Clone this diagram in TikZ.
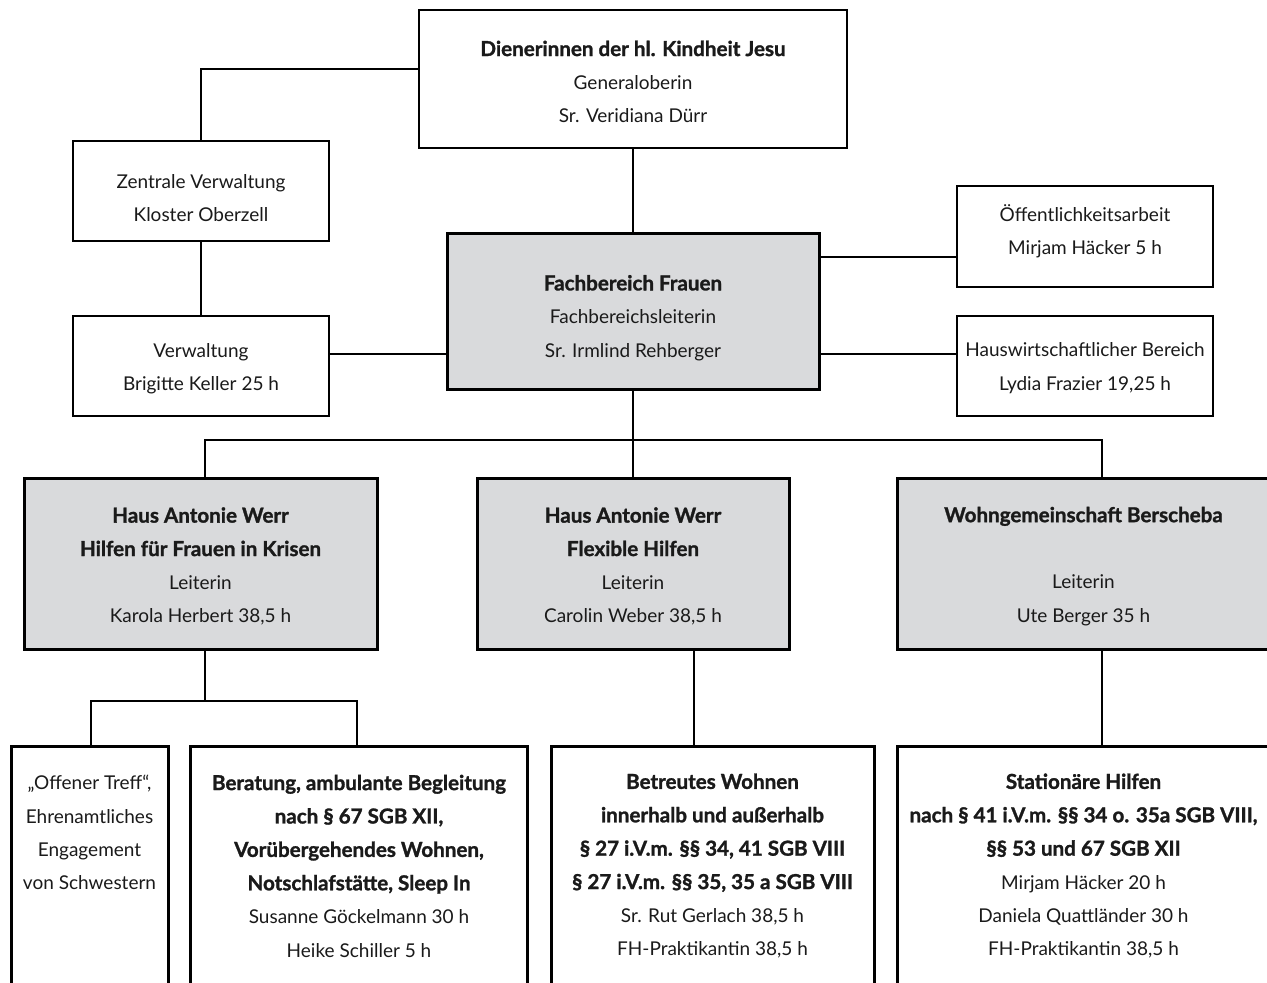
\documentclass[tikz,border=0pt]{standalone}
\usepackage{fontspec}
\setmainfont{Lato}[BoldFeatures={FakeBold=1.3}]
\definecolor{boxgray}{RGB}{217,218,220}
\newcommand{\hb}[1]{{\fontsize{20.6}{33.4}\selectfont\bfseries #1}}
\newcommand{\dn}[1]{\rule{0pt}{#1}}
\newcommand{\up}[1]{\rule[-#1]{0pt}{0pt}}
\begin{document}
\begin{tikzpicture}[x=1pt,y=-1pt,
  every node/.style={font=\fontsize{19}{33.4}\selectfont, align=center, inner sep=0pt, text={rgb,255:red,26;green,26;blue,26}},
  thinbox/.style={draw, rectangle, line width=1.6pt, fill=white},
  graybox/.style={draw, rectangle, line width=3pt, fill=boxgray},
  lowbox/.style={draw, rectangle, line width=3pt, fill=white},
  conn/.style={line width=1.6pt}]
\useasboundingbox (0,0) rectangle (1267,983);
\clip (0,0) rectangle (1267,983);
\fill[white] (0,0) rectangle (1267,983);

% upper level
\node[thinbox, minimum width=428pt, minimum height=138pt] (top) at (633,79)
  {\dn{21pt}\hb{Dienerinnen der hl. Kindheit Jesu}\\Generaloberin\\Sr. Veridiana Dürr};
\node[thinbox, minimum width=256pt, minimum height=100pt] (zent) at (201,191)
  {\dn{28pt}Zentrale Verwaltung\\Kloster Oberzell};
\node[thinbox, minimum width=256pt, minimum height=100pt] (verw) at (201,366)
  {\dn{20pt}Verwaltung\\Brigitte Keller 25 h};
\node[graybox, minimum width=372pt, minimum height=156pt] (fach) at (633,311)
  {\dn{29pt}\hb{Fachbereich Frauen}\\Fachbereichsleiterin\\Sr. Irmlind Rehberger};
\node[thinbox, minimum width=256pt, minimum height=101pt] (oeff) at (1085,236.5)
  {Öffentlichkeitsarbeit\\Mirjam Häcker 5 h\up{14pt}};
\node[thinbox, minimum width=256pt, minimum height=100pt] (haus) at (1085,366)
  {\dn{18pt}Hauswirtschaftlicher Bereich\\Lydia Frazier 19,25 h};

% middle level
\node[graybox, minimum width=353pt, minimum height=171pt] (h1) at (200.5,563.5)
  {\dn{21pt}\hb{Haus Antonie Werr}\\\hb{Hilfen für Frauen in Krisen}\\Leiterin\\Karola Herbert 38,5 h};
\node[graybox, minimum width=312pt, minimum height=171pt] (h2) at (633,563.5)
  {\dn{21pt}\hb{Haus Antonie Werr}\\\hb{Flexible Hilfen}\\Leiterin\\Carolin Weber 38,5 h};
\node[graybox, minimum width=373pt, minimum height=171pt] (h3) at (1083.5,563.5)
  {\dn{21pt}\hb{Wohngemeinschaft Berscheba}\\\mbox{}\\Leiterin\\Ute Berger 35 h};

% lower level
\node[lowbox, minimum width=157pt, minimum height=240pt] (b1) at (89.5,866)
  {„Offener Treff“,\\Ehrenamtliches\\Engagement\\von Schwestern\\\mbox{}\\\mbox{}};
\node[lowbox, minimum width=337pt, minimum height=240pt] (b2) at (359,866)
  {\hb{Beratung, ambulante Begleitung}\\\hb{nach § 67 SGB XII,}\\\hb{Vorübergehendes Wohnen,}\\\hb{Notschlafstätte, Sleep In}\\Susanne Göckelmann 30 h\\Heike Schiller 5 h};
\node[lowbox, minimum width=323pt, minimum height=240pt] (b3) at (712.5,866)
  {\hb{Betreutes Wohnen}\\\hb{innerhalb und außerhalb}\\\hb{§ 27 i.V.m. §§ 34, 41 SGB VIII}\\\hb{§ 27 i.V.m. §§ 35, 35 a SGB VIII}\\Sr. Rut Gerlach 38,5 h\\FH-Praktikantin 38,5 h};
\node[lowbox, minimum width=373pt, minimum height=240pt] (b4) at (1083.5,866)
  {\hb{Stationäre Hilfen}\\\hb{nach § 41 i.V.m. §§ 34 o. 35a SGB VIII,}\\\hb{§§ 53 und 67 SGB XII}\\Mirjam Häcker 20 h\\Daniela Quattländer 30 h\\FH-Praktikantin 38,5 h};

% helper coordinates
\coordinate (topw) at ([yshift=10pt]top.west);
\coordinate (verwe) at ([yshift=12pt]verw.east);
\coordinate (oeffw) at ([yshift=-20.5pt]oeff.west);
\coordinate (hausw) at ([yshift=12pt]haus.west);
\coordinate (busL) at (205,440);
\coordinate (busR) at (1102,440);
\coordinate (lowL) at (91,701);
\coordinate (lowR) at (357,701);
\coordinate (h2out) at ([xshift=61pt]h2.south);
\coordinate (h3out) at ([xshift=18.5pt]h3.south);

% connectors
\draw[conn] (topw) -| (zent.north);
\draw[conn] (zent.south) -- (verw.north);
\draw[conn] (verwe) -- (verwe -| fach.west);
\draw[conn] (top.south) -- (fach.north);
\draw[conn] (oeffw) -- (oeffw -| fach.east);
\draw[conn] (hausw) -- (hausw -| fach.east);
\draw[conn] (fach.south) -- (fach.south |- busL);
\draw[conn] (busL |- h1.north) -- (busL) -- (busR) -- (busR |- h3.north);
\draw[conn] (fach.south |- busL) -- (h2.north);
\draw[conn] (busL |- h1.south) -- (busL |- lowL);
\draw[conn] (lowL |- b1.north) -- (lowL) -- (lowR) -- (lowR |- b2.north);
\draw[conn] (h2out) -- (h2out |- b3.north);
\draw[conn] (h3out) -- (h3out |- b4.north);
\end{tikzpicture}
\end{document}
